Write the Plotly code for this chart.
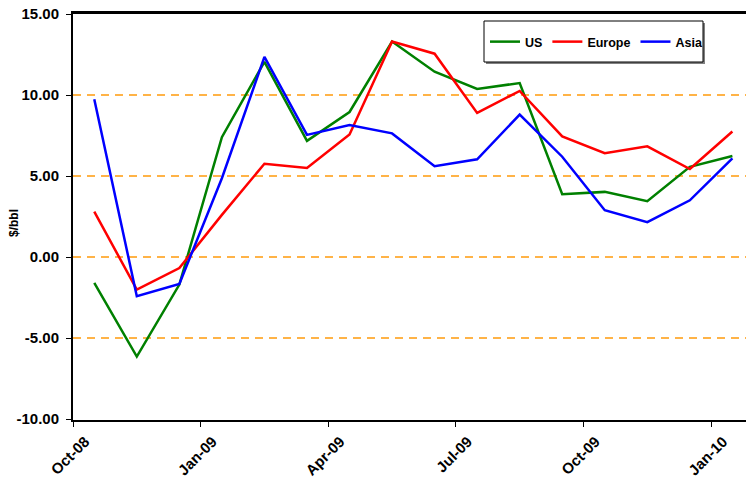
import plotly.graph_objects as go

months = ["Oct-08", "Nov-08", "Dec-08", "Jan-09", "Feb-09", "Mar-09", "Apr-09", "May-09",
          "Jun-09", "Jul-09", "Aug-09", "Sep-09", "Oct-09", "Nov-09", "Dec-09", "Jan-10"]
us = [-1.6, -6.15, -1.7, 7.4, 12.05, 7.17, 8.95, 13.3, 11.44, 10.37, 10.74, 3.87, 4.02, 3.44, 5.57, 6.23]
europe = [2.8, -2.01, -0.68, 2.6, 5.76, 5.49, 7.56, 13.3, 12.55, 8.89, 10.25, 7.44, 6.41, 6.83, 5.43, 7.75]
asia = [9.74, -2.42, -1.66, 4.86, 12.35, 7.54, 8.15, 7.63, 5.61, 6.03, 8.79, 6.19, 2.89, 2.15, 3.5, 6.09]
tick_labels = ["Oct-08", "Jan-09", "Apr-09", "Jul-09", "Oct-09", "Jan-10"]
y_ticks = [-10, -5, 0, 5, 10, 15]

# month index positions (points sit mid-month, ticks on month boundaries)
xpos = [i + 0.5 for i in range(len(months))]
tick_pos = [months.index(t) for t in tick_labels]

W, H = 746, 489
ML, MR, MT, MB = 73, 0, 13, 69
PW, PH = W - ML - MR, H - MT - MB  # PH = 407

# y range padded slightly so the gridlines sit on whole pixels (81 px per 5 units)
s = 81 / 5.0
y_top = 10 + 82 / s
y_bot = y_top - PH / s

def px_x(px):
    return (px - ML) / PW

def px_y(py):
    return 1 - (py - MT) / PH

fig = go.Figure()
for name, vals, col in [("US", us, "#008000"), ("Europe", europe, "#FF0000"), ("Asia", asia, "#0000FF")]:
    fig.add_trace(go.Scatter(x=xpos, y=vals, mode="lines", name=name,
                             line=dict(color=col, width=2.5), customdata=months,
                             hovertemplate="%{customdata}: %{y:.2f}<extra>" + name + "</extra>"))

bold = dict(family="Liberation Sans, Arial, sans-serif", color="black", weight="bold")

fig.update_layout(
    width=W, height=H,
    margin=dict(l=ML, r=MR, t=MT, b=MB, autoexpand=False),
    paper_bgcolor="white", plot_bgcolor="white",
    showlegend=True,
    legend=dict(orientation="h", x=px_x(485), y=px_y(42), xanchor="left", yanchor="middle",
                bgcolor="rgba(0,0,0,0)", borderwidth=0,
                font=dict(size=12.5, **bold)),
    xaxis=dict(range=[0, 15.82], tickmode="array", tickvals=tick_pos, ticktext=tick_labels,
               tickangle=-45, tickfont=dict(size=15, **bold), ticks="outside", ticklen=5,
               tickwidth=1, tickcolor="black", showgrid=False, zeroline=False,
               ticklabelshift=12, ticklabeloverflow="allow",
               showline=True, linecolor="black", linewidth=2, mirror=True, automargin=False),
    yaxis=dict(range=[y_bot, y_top], tickmode="array", tickvals=y_ticks,
               ticktext=[f"{v:.2f}" for v in y_ticks],
               tickfont=dict(size=15, **bold), ticks="outside", ticklen=5, tickwidth=1,
               tickcolor="black", showgrid=True, gridcolor="#FFB347", gridwidth=2,
               griddash="8px,6px", zeroline=False, ticklabelstandoff=4,
               ticklabeloverflow="allow",
               showline=True, linecolor="black", linewidth=2, mirror=False, automargin=False),
    shapes=[
        dict(type="line", xref="paper", yref="paper", x0=0, x1=1, y0=1, y1=1,
             line=dict(color="black", width=2), layer="above"),
        dict(type="rect", xref="paper", yref="paper", x0=px_x(486), x1=px_x(705),
             y0=px_y(23), y1=px_y(64), fillcolor="#808080", line=dict(width=0), layer="above"),
        dict(type="rect", xref="paper", yref="paper", x0=px_x(484), x1=px_x(703),
             y0=px_y(21), y1=px_y(62), fillcolor="white", line=dict(color="black", width=1),
             layer="above"),
    ],
    annotations=[dict(text="$/bbl", xref="paper", yref="paper", x=px_x(14), y=px_y(223),
                      xanchor="center", yanchor="middle",
                      showarrow=False, textangle=-90, font=dict(size=12, **bold))],
)

fig.write_html("out.html", config={"displayModeBar": False},
               post_script="document.body.style.margin='0px';")
